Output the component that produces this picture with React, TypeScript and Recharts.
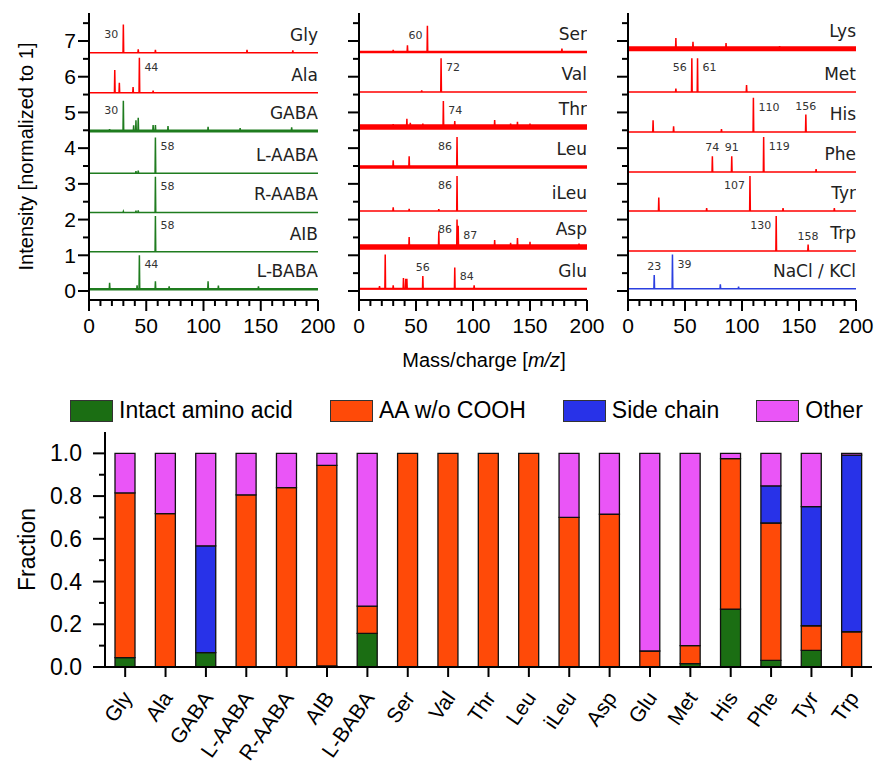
import React from 'react';
import { LineChart, Line, XAxis, YAxis, BarChart, Bar } from 'recharts';

const SANS = '"Liberation Sans", Arial, sans-serif';
const VERDANA = '"DejaVu Sans", Verdana, sans-serif';

const RED = '#ff0000';
const GREEN = '#1f7c1f';
const BLUE = '#2b3fe0';

// spectra: [m/z, peak height above the trace baseline]
const GLY_PEAKS = [[30, 0.79], [43, 0.1], [58, 0.08], [138, 0.08], [178, 0.07]];
const ALA_PEAKS = [[22.5, 0.64], [26.5, 0.28], [38.5, 0.16], [44, 0.98], [56, 0.06]];
const GABA_PEAKS = [[18, 0.05], [30, 0.85], [39, 0.16], [41, 0.3], [43, 0.37], [56, 0.17], [58, 0.17], [69, 0.14], [104, 0.12], [132, 0.08], [177, 0.1]];
const LAABA_PEAKS = [[41, 0.06], [43, 0.07], [58, 1.0]];
const RAABA_PEAKS = [[30, 0.03], [41, 0.05], [43, 0.06], [58, 1.0]];
const AIB_PEAKS = [[58, 1.0]];
const LBABA_PEAKS = [[18, 0.18], [42, 0.11], [44, 0.95], [58, 0.22], [70, 0.08], [104, 0.22], [113, 0.1], [148, 0.08]];

const SER_PEAKS = [[30, 0.06], [42.5, 0.19], [60, 0.74], [178, 0.1]];
const VAL_PEAKS = [[55, 0.05], [72, 0.95]];
const THR_PEAKS = [[30, 0.08], [42, 0.23], [45, 0.12], [56, 0.1], [74, 0.73], [84, 0.17], [119, 0.2], [133, 0.1], [139, 0.15], [150, 0.1]];
const LEU_PEAKS = [[30, 0.19], [44, 0.3], [86, 0.84]];
const ILEU_PEAKS = [[30, 0.1], [44, 0.06], [70, 0.05], [86, 0.98]];
const ASP_PEAKS = [[44, 0.28], [70, 0.44], [86, 0.77], [87, 0.6], [119, 0.2], [133, 0.12], [139, 0.25], [150, 0.15], [193, 0.1]];
const GLU_PEAKS = [[18, 0.08], [23, 0.96], [30, 0.1], [39, 0.3], [41, 0.28], [42, 0.28], [56, 0.36], [84, 0.6], [101, 0.1]];

const LYS_PEAKS = [[42, 0.3], [57, 0.2], [86, 0.16], [133, 0.08]];
const MET_PEAKS = [[42, 0.1], [56, 0.95], [61, 0.95], [104, 0.2]];
const HIS_PEAKS = [[22, 0.33], [40, 0.16], [82, 0.08], [110, 0.96], [156, 0.49]];
const PHE_PEAKS = [[74, 0.44], [91, 0.44], [119, 0.98], [165, 0.08]];
const TYR_PEAKS = [[27, 0.38], [69, 0.08], [107, 0.98], [136, 0.08], [181, 0.08]];
const TRP_PEAKS = [[130, 0.98], [158, 0.18]];
const SALT_PEAKS = [[23, 0.39], [39, 0.96], [81, 0.13], [97, 0.06]];

// baselines (stack offsets) of the traces, top to bottom
const LEFT_OFFSETS = [6.67, 5.55, 4.48, 3.3, 2.2, 1.1, 0.05];
const MID_OFFSETS = [6.69, 5.57, 4.59, 3.47, 2.24, 1.23, 0.06];
const RIGHT_OFFSETS = [6.78, 5.57, 4.45, 3.33, 2.24, 1.12, 0.06];

const MZ_TICKS = [0, 10, 20, 30, 40, 50, 60, 70, 80, 90, 100, 110, 120, 130, 140, 150, 160, 170, 180, 190, 200];
const INT_TICKS = [0, 0.5, 1, 1.5, 2, 2.5, 3, 3.5, 4, 4.5, 5, 5.5, 6, 6.5, 7, 7.5];

// bar chart
const AMINO = ['Gly', 'Ala', 'GABA', 'L-AABA', 'R-AABA', 'AIB', 'L-BABA', 'Ser', 'Val', 'Thr', 'Leu', 'iLeu', 'Asp', 'Glu', 'Met', 'His', 'Phe', 'Tyr', 'Trp'];
const INTACT = [0.044, 0, 0.067, 0, 0, 0.005, 0.157, 0, 0, 0, 0, 0, 0, 0, 0.016, 0.271, 0.031, 0.078, 0];
const AA_NO_COOH = [0.771, 0.718, 0, 0.806, 0.84, 0.939, 0.128, 1, 1, 1, 1, 0.7, 0.715, 0.075, 0.084, 0.704, 0.643, 0.115, 0.165];
const SIDE_CHAIN = [0, 0, 0.5, 0, 0, 0, 0, 0, 0, 0, 0, 0, 0, 0, 0, 0, 0.174, 0.558, 0.827];
const OTHER = [0.185, 0.282, 0.433, 0.194, 0.16, 0.056, 0.715, 0, 0, 0, 0, 0.3, 0.285, 0.925, 0.9, 0.025, 0.152, 0.249, 0.008];
const FRACTION_TICKS = [0, 0.1, 0.2, 0.3, 0.4, 0.5, 0.6, 0.7, 0.8, 0.9, 1.0];

const SERIES = [
  { key: 'intact', name: 'Intact amino acid', color: '#1b6e13' },
  { key: 'aa', name: 'AA w/o COOH', color: '#ff4a08' },
  { key: 'side', name: 'Side chain', color: '#2832e8' },
  { key: 'other', name: 'Other', color: '#ea55f7' },
];

// where each peak label sits: l = left, r = right, t = on top
const LABEL_PLACE: Record<string, string> = {
  'Gly:30': 'l', 'Ala:44': 'r', 'GABA:30': 'l', 'L-AABA:58': 'r', 'R-AABA:58': 'r', 'AIB:58': 'r', 'L-BABA:44': 'r',
  'Ser:60': 'l', 'Val:72': 'r', 'Thr:74': 'r', 'Leu:86': 'l', 'iLeu:86': 'l', 'Asp:86': 'l', 'Asp:87': 'r', 'Glu:56': 't', 'Glu:84': 'r',
  'Met:56': 'l', 'Met:61': 'r', 'His:110': 'r', 'His:156': 't', 'Phe:74': 't', 'Phe:91': 't', 'Phe:119': 'r',
  'Tyr:107': 'l', 'Trp:130': 'l', 'Trp:158': 't', 'NaCl / KCl:23': 't', 'NaCl / KCl:39': 'r',
};

const LEFT_TRACES = [
  { name: 'Gly', peaks: GLY_PEAKS, labels: [30], color: RED, noise: 0 },
  { name: 'Ala', peaks: ALA_PEAKS, labels: [44], color: RED, noise: 0 },
  { name: 'GABA', peaks: GABA_PEAKS, labels: [30], color: GREEN, noise: 3 },
  { name: 'L-AABA', peaks: LAABA_PEAKS, labels: [58], color: GREEN, noise: 0 },
  { name: 'R-AABA', peaks: RAABA_PEAKS, labels: [58], color: GREEN, noise: 0 },
  { name: 'AIB', peaks: AIB_PEAKS, labels: [58], color: GREEN, noise: 0 },
  { name: 'L-BABA', peaks: LBABA_PEAKS, labels: [44], color: GREEN, noise: 2.5 },
];
const MID_TRACES = [
  { name: 'Ser', peaks: SER_PEAKS, labels: [60], color: RED, noise: 2.5 },
  { name: 'Val', peaks: VAL_PEAKS, labels: [72], color: RED, noise: 0 },
  { name: 'Thr', peaks: THR_PEAKS, labels: [74], color: RED, noise: 5.5 },
  { name: 'Leu', peaks: LEU_PEAKS, labels: [86], color: RED, noise: 3.5 },
  { name: 'iLeu', peaks: ILEU_PEAKS, labels: [86], color: RED, noise: 0 },
  { name: 'Asp', peaks: ASP_PEAKS, labels: [86, 87], color: RED, noise: 5.5 },
  { name: 'Glu', peaks: GLU_PEAKS, labels: [56, 84], color: RED, noise: 2 },
];
const RIGHT_TRACES = [
  { name: 'Lys', peaks: LYS_PEAKS, labels: [], color: RED, noise: 5 },
  { name: 'Met', peaks: MET_PEAKS, labels: [56, 61], color: RED, noise: 0 },
  { name: 'His', peaks: HIS_PEAKS, labels: [110, 156], color: RED, noise: 0 },
  { name: 'Phe', peaks: PHE_PEAKS, labels: [74, 91, 119], color: RED, noise: 0 },
  { name: 'Tyr', peaks: TYR_PEAKS, labels: [107], color: RED, noise: 0 },
  { name: 'Trp', peaks: TRP_PEAKS, labels: [130, 158], color: RED, noise: 0 },
  { name: 'NaCl / KCl', peaks: SALT_PEAKS, labels: [23, 39], color: BLUE, noise: 0 },
];

function traceData(tr: any, off: number) {
  const pts: any[] = [{ x: 0, y: off }];
  tr.peaks.forEach(([mz, h]: number[]) => {
    pts.push({ x: mz - 0.3, y: off });
    pts.push({ x: mz, y: off + h, lbl: tr.labels.includes(mz) ? mz : undefined });
    pts.push({ x: mz + 0.3, y: off });
  });
  pts.push({ x: 200, y: off, nm: tr.name });
  return pts;
}

const makeDot = (tr: any) => (p: any) => {
  const { cx, cy, payload, index } = p;
  const k = `${tr.name}-${index}`;
  if (payload.nm) {
    return <text key={k} x={cx} y={cy - 12} textAnchor="end" fontSize={17} fontFamily={VERDANA} fill="#222">{payload.nm}</text>;
  }
  if (payload.lbl != null) {
    const place = LABEL_PLACE[`${tr.name}:${payload.lbl}`] || 'r';
    const common = { key: k, fontSize: 11, fontFamily: VERDANA, fill: '#333' };
    if (place === 't') return <text {...common} x={cx} y={cy - 5} textAnchor="middle">{payload.lbl}</text>;
    if (place === 'l') return <text {...common} x={cx - 5} y={cy + 13} textAnchor="end">{payload.lbl}</text>;
    return <text {...common} x={cx + 5} y={cy + 13} textAnchor="start">{payload.lbl}</text>;
  }
  return <g key={k} />;
};

const MzTick = (p: any) => {
  const { x, y, payload } = p;
  const major = payload.value % 50 === 0;
  return (
    <g>
      <line x1={x} y1={y} x2={x} y2={y + (major ? 11 : 6)} stroke="#000" strokeWidth={2} />
      {major && <text x={x} y={y + 33} textAnchor="middle" fontSize={21} fontFamily={SANS} fill="#000">{payload.value}</text>}
    </g>
  );
};

const makeIntTick = (showLabels: boolean) => (p: any) => {
  const { x, y, payload } = p;
  const major = Number.isInteger(payload.value);
  return (
    <g>
      <line x1={x} y1={y} x2={x - (major ? 11 : 6)} y2={y} stroke="#000" strokeWidth={2} />
      {major && showLabels && <text x={x - 13} y={y} dy="0.35em" textAnchor="end" fontSize={21} fontFamily={SANS} fill="#000">{payload.value}</text>}
    </g>
  );
};

function SpectrumPanel({ traces, offsets, left, width, axisWidth, right, showLabels, xTitle }: any) {
  return (
    <div style={{ position: 'absolute', left, top: 0 }}>
      <LineChart width={width} height={380} margin={{ top: 13, right, bottom: 0, left: 0 }}>
        <XAxis
          type="number" dataKey="x" domain={[0, 200]} allowDataOverflow ticks={MZ_TICKS} interval={0}
          height={80} tickSize={0} tickMargin={0} tickLine={false} tick={MzTick}
          axisLine={{ stroke: '#000', strokeWidth: 2 }}
          label={xTitle ? {
            content: (lp: any) => {
              const vb = lp.viewBox;
              return (
                <text x={vb.x + vb.width / 2 + 11} y={vb.y + 67} textAnchor="middle" fontSize={20} fontFamily={SANS} fill="#000">
                  Mass/charge [<tspan fontStyle="italic">m/z</tspan>]
                </text>
              );
            },
          } : undefined}
        />
        <YAxis
          type="number" domain={[-0.252, 7.784]} allowDataOverflow ticks={INT_TICKS} interval={0}
          width={axisWidth} tickSize={0} tickMargin={0} tickLine={false} tick={makeIntTick(showLabels)}
          axisLine={{ stroke: '#000', strokeWidth: 2 }}
          label={showLabels ? {
            content: (lp: any) => {
              const vb = lp.viewBox;
              const cy = vb.y + vb.height / 2;
              return (
                <text x={26} y={cy} transform={`rotate(-90, 26, ${cy})`} dy="0.35em" textAnchor="middle" fontSize={20} fontFamily={SANS} fill="#000">
                  Intensity [normalized to 1]
                </text>
              );
            },
          } : undefined}
        />
        {traces.map((tr: any, i: number) => tr.noise > 0 && (
          <Line
            key={`n-${tr.name}`} data={[{ x: 0, y: offsets[i] }, { x: 200, y: offsets[i] }]} dataKey="y"
            stroke={tr.color} strokeWidth={tr.noise} dot={false} activeDot={false} isAnimationActive={false}
          />
        ))}
        {traces.map((tr: any, i: number) => (
          <Line
            key={tr.name} data={traceData(tr, offsets[i])} dataKey="y" type="linear"
            stroke={tr.color} strokeWidth={1.5} dot={makeDot(tr)} activeDot={false} isAnimationActive={false}
          />
        ))}
      </LineChart>
    </div>
  );
}

const CatTick = (p: any) => {
  const { x, y, payload } = p;
  return (
    <g>
      <line x1={x} y1={y} x2={x} y2={y + 10} stroke="#000" strokeWidth={2} />
      <text x={0} y={0} transform={`translate(${x + 8}, ${y + 31}) rotate(-55)`} textAnchor="end" fontSize={21} fontFamily={SANS} fill="#000">
        {payload.value}
      </text>
    </g>
  );
};

const FracTick = (p: any) => {
  const { x, y, payload } = p;
  const tenth = Math.round(payload.value * 10);
  const major = tenth % 2 === 0;
  return (
    <g>
      <line x1={x} y1={y} x2={x - (major ? 12 : 6)} y2={y} stroke="#000" strokeWidth={2} />
      {major && <text x={x - 23} y={y} dy="0.35em" textAnchor="end" fontSize={23} fontFamily={SANS} fill="#000">{(tenth / 10).toFixed(1)}</text>}
    </g>
  );
};

export default function App() {
  const rows = AMINO.map((name, i) => ({ name, intact: INTACT[i], aa: AA_NO_COOH[i], side: SIDE_CHAIN[i], other: OTHER[i] }));

  return (
    <div style={{ position: 'absolute', left: 0, top: 0, width: 877, height: 763, background: '#fff', overflow: 'hidden' }}>
      <SpectrumPanel traces={LEFT_TRACES} offsets={LEFT_OFFSETS} left={0} width={345} axisWidth={89} right={27} showLabels />
      <SpectrumPanel traces={MID_TRACES} offsets={MID_OFFSETS} left={330} width={290} axisWidth={29} right={33} xTitle />
      <SpectrumPanel traces={RIGHT_TRACES} offsets={RIGHT_OFFSETS} left={600} width={277} axisWidth={28} right={21} />

      <div style={{ position: 'absolute', left: 70, top: 397, display: 'flex', alignItems: 'center', gap: 37, fontFamily: SANS, fontSize: 23, whiteSpace: 'nowrap' }}>
        {SERIES.map((s) => (
          <div key={s.key} style={{ display: 'flex', alignItems: 'center' }}>
            <div style={{ width: 41, height: 20, background: s.color, border: '1.5px solid #333', marginRight: 6 }} />
            <span>{s.name}</span>
          </div>
        ))}
      </div>

      <div style={{ position: 'absolute', left: 0, top: 380 }}>
        <BarChart width={877} height={383} data={rows} margin={{ top: 52, right: 5, bottom: 0, left: 0 }}>
          <XAxis
            dataKey="name" interval={0} height={96} tickSize={0} tickMargin={0} tickLine={false} tick={CatTick}
            axisLine={{ stroke: '#000', strokeWidth: 2 }}
          />
          <YAxis
            type="number" domain={[0, 1.1]} allowDataOverflow ticks={FRACTION_TICKS} interval={0}
            width={105} tickSize={0} tickMargin={0} tickLine={false} tick={FracTick}
            axisLine={{ stroke: '#000', strokeWidth: 2 }}
            label={{
              content: (lp: any) => {
                const vb = lp.viewBox;
                const cy = vb.y + vb.height / 2;
                return (
                  <text x={27} y={cy} transform={`rotate(-90, 27, ${cy})`} dy="0.35em" textAnchor="middle" fontSize={23} fontFamily={SANS} fill="#000">
                    Fraction
                  </text>
                );
              },
            }}
          />
          {SERIES.map((s) => (
            <Bar key={s.key} dataKey={s.key} name={s.name} stackId="f" fill={s.color} stroke="#111" strokeWidth={1.3} barSize={20} isAnimationActive={false} />
          ))}
        </BarChart>
      </div>
    </div>
  );
}
